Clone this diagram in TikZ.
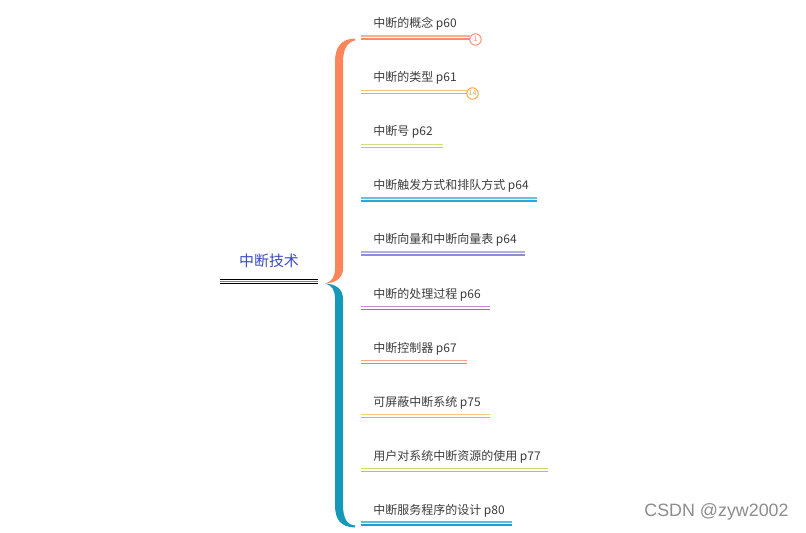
\documentclass[tikz,border=0pt]{standalone}
\usepackage{fontspec}
\newfontfamily\cjk{Noto Sans CJK SC}
\newfontfamily\wmfont{Liberation Sans}
\definecolor{txt}{RGB}{60,60,60}
\definecolor{rootblue}{RGB}{58,76,190}
\definecolor{braceorange}{RGB}{252,134,90}
\definecolor{braceteal}{RGB}{22,152,184}
\definecolor{cA}{RGB}{245,140,110}
\definecolor{cB}{RGB}{245,169,59}
\definecolor{cC}{RGB}{190,208,74}
\definecolor{cD}{RGB}{44,168,210}
\definecolor{cE}{RGB}{141,143,208}
\definecolor{cF}{RGB}{169,99,184}
\definecolor{cG}{RGB}{244,126,90}
\definecolor{cH}{RGB}{245,173,58}
\definecolor{cI}{RGB}{181,204,42}
\definecolor{cJ}{RGB}{31,160,200}
\begin{document}
\begin{tikzpicture}[x=0.75pt,y=-0.75pt,
  child/.style={anchor=west,inner sep=0pt,font=\cjk\fontsize{9.0pt}{11pt}\selectfont,text=txt},
  uline/.style={line width=1.05pt},
  badge/.style={circle,draw=#1,fill=white,line width=0.7pt,inner sep=0pt,minimum size=8.6pt,text=#1,font=\cjk\fontsize{5.2pt}{6pt}\selectfont}]
\useasboundingbox (0,0) rectangle (806,532);
% root
\node[inner sep=0pt,font=\cjk\fontsize{11.2pt}{13pt}\selectfont,text=rootblue] (root) at (269,261) {中断技术};
\coordinate (rs) at (220,281.5);
\coordinate (re) at (318,281.5);
\draw[line width=0.9pt,black!50] (rs) -- (re);
\draw[line width=1.3pt,black] ([yshift=1.5pt]rs) -- ([yshift=1.5pt]re);
\draw[line width=1.3pt,black] ([yshift=-1.5pt]rs) -- ([yshift=-1.5pt]re);
% braces
\fill[braceorange] (355,38.5) .. controls (341,39) and (335,47) .. (335,62) -- (335,268)
  .. controls (335,277) and (332,282) .. (325,283.5)
  .. controls (336,283) and (343,278) .. (343,268) -- (343,62)
  .. controls (343,50) and (347,42) .. (355,40.5) -- cycle;
\fill[braceteal] (325,283.5) .. controls (332,285) and (335,290) .. (335,299) -- (335,505)
  .. controls (335,520) and (341,527) .. (355,527.5) -- (355,525.5)
  .. controls (347,525) and (343,518) .. (343,505) -- (343,299)
  .. controls (343,289) and (336,284) .. (325,283.5) -- cycle;
% children
\def\ul#1#2#3#4{%
  \coordinate (s#1) at (361,#2);
  \coordinate (e#1) at (#3,#2);
  \draw[uline,draw=#4!70] ([yshift=1.2pt]s#1) -- ([yshift=1.2pt]e#1);
  \draw[uline,draw=#4] ([yshift=-1.2pt]s#1) -- ([yshift=-1.2pt]e#1);}
\node[child] (n1) at (373,23.5) {中断的概念 p60};
\node[child] (n2) at (373,77.5) {中断的类型 p61};
\node[child] (n3) at (373,131.5) {中断号 p62};
\node[child] (n4) at (373,185.5) {中断触发方式和排队方式 p64};
\node[child] (n5) at (373,240) {中断向量和中断向量表 p64};
\node[child] (n6) at (373,294.5) {中断的处理过程 p66};
\node[child] (n7) at (373,348.5) {中断控制器 p67};
\node[child] (n8) at (373,402.5) {可屏蔽中断系统 p75};
\node[child] (n9) at (373,456.5) {用户对系统中断资源的使用 p77};
\node[child] (n10) at (373,510.5) {中断服务程序的设计 p80};
\node[badge=cA] (b1) at (475.5,39.5) {1};
\node[badge=cB] (b2) at (472.5,93.5) {14};
\ul{1}{37.5}{470}{cA}
\ul{2}{92}{467}{cB}
\ul{3}{146}{443}{cC}
\ul{4}{199.5}{537}{cD}
\ul{5}{253.5}{525}{cE}
\ul{6}{308}{490}{cF}
\ul{7}{362}{467}{cG}
\ul{8}{416}{490}{cH}
\ul{9}{470}{548}{cI}
\ul{10}{523.5}{512}{cJ}
% watermark
\node[inner sep=0pt,font=\wmfont\fontsize{13.4pt}{15pt}\selectfont,text=black!45] (wm) at (716.5,512) {CSDN @zyw2002};
\end{tikzpicture}
\end{document}
